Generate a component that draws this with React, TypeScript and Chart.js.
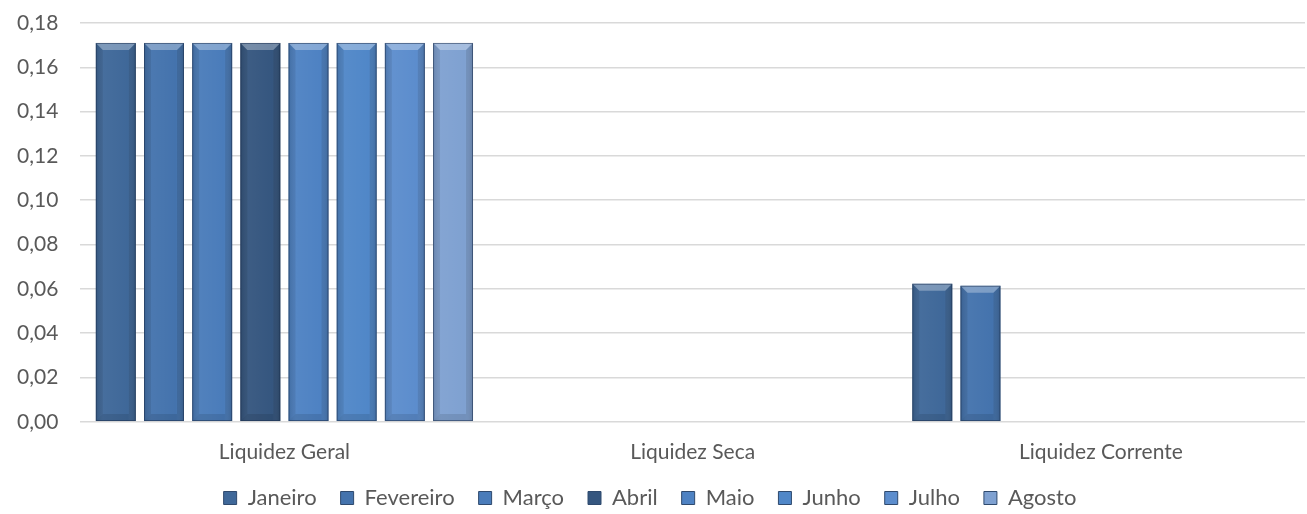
import React, { useEffect, useRef } from "react";
import { Chart, registerables } from "chart.js";

Chart.register(...registerables);

const categories = ["Liquidez Geral", "Liquidez Seca", "Liquidez Corrente"];
const seriesNames = ["Janeiro", "Fevereiro", "Março", "Abril", "Maio", "Junho", "Julho", "Agosto"];
const janeiro = [0.171, 0, 0.0623];
const fevereiro = [0.171, 0, 0.0614];
const marco = [0.171, 0, 0];
const abril = [0.171, 0, 0];
const maio = [0.171, 0, 0];
const junho = [0.171, 0, 0];
const julho = [0.171, 0, 0];
const agosto = [0.171, 0, 0];
const seriesValues = [janeiro, fevereiro, marco, abril, maio, junho, julho, agosto];
const seriesColors = ["#3f6899", "#4473ad", "#4a7cba", "#35567f", "#4e82c3", "#5087c8", "#5c8dcd", "#7fa1d1"];
const yTicks = [0, 0.02, 0.04, 0.06, 0.08, 0.1, 0.12, 0.14, 0.16, 0.18];

const bevelPlugin = {
  id: "bevel",
  afterDatasetsDraw(chart: any) {
    const ctx = chart.ctx;
    chart.data.datasets.forEach((ds: any, di: number) => {
      const meta = chart.getDatasetMeta(di);
      meta.data.forEach((bar: any) => {
        const { x, y, base, width } = bar.getProps(["x", "y", "base", "width"], true);
        const h = base - y;
        if (h < 2) return;
        const l = x - width / 2;
        const r = x + width / 2;
        const b = Math.min(7, h / 2);
        ctx.save();
        const g = ctx.createLinearGradient(l, 0, r, 0);
        g.addColorStop(0, "rgba(0,0,0,0.10)");
        g.addColorStop(0.2, "rgba(255,255,255,0.04)");
        g.addColorStop(0.8, "rgba(255,255,255,0.0)");
        g.addColorStop(1, "rgba(0,0,0,0.12)");
        ctx.fillStyle = g;
        ctx.fillRect(l, y, width, h);
        ctx.beginPath();
        ctx.moveTo(l, y);
        ctx.lineTo(r, y);
        ctx.lineTo(r - b, y + b);
        ctx.lineTo(l + b, y + b);
        ctx.closePath();
        ctx.fillStyle = "rgba(255,255,255,0.30)";
        ctx.fill();
        ctx.beginPath();
        ctx.moveTo(l, base);
        ctx.lineTo(r, base);
        ctx.lineTo(r - b, base - b);
        ctx.lineTo(l + b, base - b);
        ctx.closePath();
        ctx.fillStyle = "rgba(0,0,0,0.10)";
        ctx.fill();
        ctx.beginPath();
        ctx.moveTo(l, y);
        ctx.lineTo(l + b, y + b);
        ctx.lineTo(l + b, base - b);
        ctx.lineTo(l, base);
        ctx.closePath();
        ctx.fillStyle = "rgba(0,0,0,0.07)";
        ctx.fill();
        ctx.beginPath();
        ctx.moveTo(r, y);
        ctx.lineTo(r - b, y + b);
        ctx.lineTo(r - b, base - b);
        ctx.lineTo(r, base);
        ctx.closePath();
        ctx.fillStyle = "rgba(0,0,0,0.10)";
        ctx.fill();
        ctx.strokeStyle = "rgba(30,50,80,0.55)";
        ctx.lineWidth = 1;
        ctx.strokeRect(l + 0.5, y + 0.5, width - 1, h - 1);
        ctx.restore();
      });
    });
  },
};

export default function App() {
  const ref = useRef<HTMLCanvasElement | null>(null);
  useEffect(() => {
    document.body.style.margin = "0";
    const canvas = ref.current;
    if (!canvas) return;
    const chart = new Chart(canvas, {
      type: "bar",
      data: {
        labels: categories,
        datasets: seriesNames.map((name, i) => ({
          label: name,
          data: seriesValues[i],
          backgroundColor: seriesColors[i],
          borderWidth: 0,
          categoryPercentage: 0.944,
          barPercentage: 0.83,
        })),
      },
      options: {
        animation: false,
        responsive: false,
        maintainAspectRatio: false,
        layout: { padding: { top: 0, right: 2, left: -5, bottom: 0 } },
        plugins: {
          tooltip: { enabled: false },
          legend: {
            position: "bottom",
            maxHeight: 51,
            labels: {
              color: "#595959",
              font: { family: "Lato", size: 22 },
              boxWidth: 13,
              boxHeight: 13,
              padding: 24,
              generateLabels: (chart: any) =>
                chart.data.datasets.map((ds: any, i: number) => ({
                  text: ds.label,
                  fillStyle: ds.backgroundColor,
                  strokeStyle: "#2f4a6e",
                  lineWidth: 1,
                  hidden: false,
                  datasetIndex: i,
                  fontColor: "#595959",
                })),
            },
          },
        },
        scales: {
          x: {
            grid: { display: false },
            border: { display: false },
            ticks: { color: "#595959", font: { family: "Lato", size: 21 }, padding: 10 },
            afterFit: (scale: any) => {
              scale.height = scale.height - 12;
            },
          },
          y: {
            min: 0,
            max: 0.18,
            afterBuildTicks: (axis: any) => {
              axis.ticks = yTicks.map((v) => ({ value: v }));
            },
            afterFit: (scale: any) => {
              scale.paddingTop = 23;
              scale.paddingBottom = 0;
            },
            grid: { color: "#d9d9d9", lineWidth: 1.5, drawTicks: false },
            border: { display: false },
            ticks: {
              color: "#595959",
              font: { family: "Lato", size: 21 },
              padding: 22,
              callback: (v: any) => Number(v).toFixed(2).replace(".", ","),
            },
          },
        },
      },
      plugins: [bevelPlugin],
    });
    return () => chart.destroy();
  }, []);
  return (
    <div style={{ width: 1307, height: 514 }}>
      <canvas ref={ref} width={1307} height={514} style={{ width: 1307, height: 514 }} />
    </div>
  );
}
